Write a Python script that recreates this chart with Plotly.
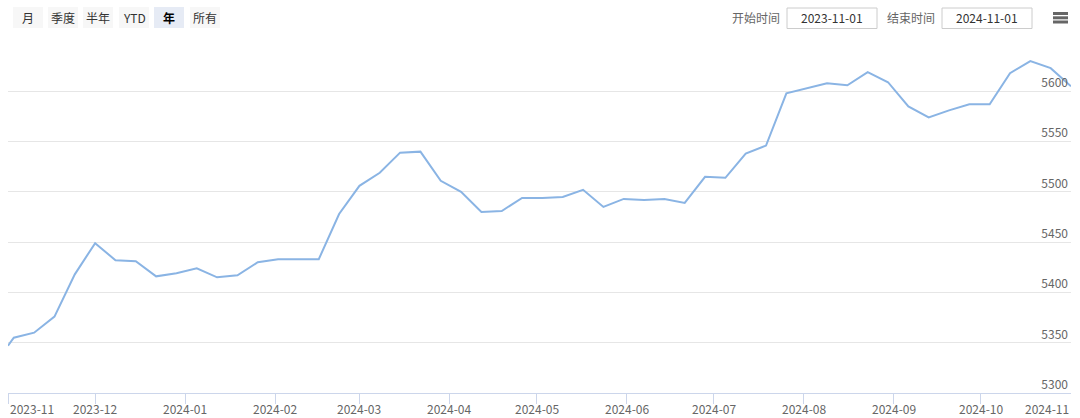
import plotly.graph_objects as go

# ---------------- data ----------------
dates = [
    "2023-11-01", "2023-11-03", "2023-11-10", "2023-11-17", "2023-11-24",
    "2023-12-01", "2023-12-08", "2023-12-15", "2023-12-22", "2023-12-29",
    "2024-01-05", "2024-01-12", "2024-01-19", "2024-01-26",
    "2024-02-02", "2024-02-09", "2024-02-16", "2024-02-23",
    "2024-03-01", "2024-03-08", "2024-03-15", "2024-03-22", "2024-03-29",
    "2024-04-05", "2024-04-12", "2024-04-19", "2024-04-26",
    "2024-05-03", "2024-05-10", "2024-05-17", "2024-05-24", "2024-05-31",
    "2024-06-07", "2024-06-14", "2024-06-21", "2024-06-28",
    "2024-07-05", "2024-07-12", "2024-07-19", "2024-07-26",
    "2024-08-02", "2024-08-09", "2024-08-16", "2024-08-23", "2024-08-30",
    "2024-09-06", "2024-09-13", "2024-09-20", "2024-09-27",
    "2024-10-04", "2024-10-11", "2024-10-18", "2024-10-25", "2024-11-01",
]
values = [
    5347, 5355, 5360, 5376, 5418,
    5449, 5432, 5431, 5416, 5419,
    5424, 5415, 5417, 5430,
    5433, 5433, 5433, 5478,
    5506, 5519, 5539, 5540, 5511,
    5500, 5480, 5481, 5494,
    5494, 5495, 5502, 5485, 5493,
    5492, 5493, 5489, 5515,
    5514, 5538, 5546, 5598,
    5603, 5608, 5606, 5619, 5609,
    5585, 5574, 5581, 5587,
    5587, 5618, 5630, 5623, 5605,
]
month_ticks = [
    "2023-11-01", "2023-12-01", "2024-01-01", "2024-02-01", "2024-03-01",
    "2024-04-01", "2024-05-01", "2024-06-01", "2024-07-01", "2024-08-01",
    "2024-09-01", "2024-10-01", "2024-11-01",
]
month_labels = [
    "2023-11", "2023-12", "2024-01", "2024-02", "2024-03", "2024-04", "2024-05",
    "2024-06", "2024-07", "2024-08", "2024-09", "2024-10", "2024-11",
]
y_ticks = [5300, 5350, 5400, 5450, 5500, 5550, 5600, 5650]
y_labels = ["5300", "5350", "5400", "5450", "5500", "5550", "5600", ""]
range_buttons = ["月", "季度", "半年", "YTD", "年", "所有"]
selected_button = "年"
start_date = "2023-11-01"
end_date = "2024-11-01"

# ---------------- layout geometry (pixels) ----------------
W_FIG, H_FIG = 1080, 418
L, R, T, B = 8, 1071, 41, 393
PW, PH = R - L, B - T


def xp(px):
    return (px - L) / PW


def yp(py):
    return (B - py) / PH


FONT = "Noto Sans CJK SC, Open Sans, sans-serif"
LINE_COLOR = "rgb(138,180,228)"

fig = go.Figure()
fig.add_trace(go.Scatter(
    x=dates, y=values, mode="lines",
    line=dict(color=LINE_COLOR, width=2),
    hoverinfo="x+y", showlegend=False,
))

shapes = []
annotations = []

# range selector buttons
btn_x0 = [13, 48, 83, 119, 154, 190]
for lbl, x0 in zip(range_buttons, btn_x0):
    sel = lbl == selected_button
    shapes.append(dict(
        type="rect", xref="paper", yref="paper",
        x0=xp(x0), x1=xp(x0 + 30), y0=yp(28), y1=yp(7),
        fillcolor="#e6ebf5" if sel else "#f7f7f7", line=dict(width=0),
        layer="above",
    ))
    annotations.append(dict(
        xref="paper", yref="paper", x=xp(x0 + 15), y=yp(17.5),
        text=f"<b>{lbl}</b>" if sel else lbl, showarrow=False,
        xanchor="center", yanchor="middle",
        font=dict(family=FONT, size=12, color="#000000" if sel else "#333333"),
    ))

# date inputs
for title, tx, val, bx in [("开始时间", 782, start_date, 787), ("结束时间", 937, end_date, 942)]:
    annotations.append(dict(
        xref="paper", yref="paper", x=xp(tx), y=yp(17.5), text=title,
        showarrow=False, xanchor="right", yanchor="middle",
        font=dict(family=FONT, size=12, color="#666666"),
    ))
    shapes.append(dict(
        type="rect", xref="paper", yref="paper",
        x0=xp(bx), x1=xp(bx + 90), y0=yp(28.5), y1=yp(8),
        fillcolor="#ffffff", line=dict(color="#cccccc", width=1), layer="above",
    ))
    annotations.append(dict(
        xref="paper", yref="paper", x=xp(bx + 45), y=yp(18), text=val,
        showarrow=False, xanchor="center", yanchor="middle",
        font=dict(family=FONT, size=12, color="#333333"),
    ))

# hamburger menu icon
for yy in [13.5, 17.8, 22]:
    shapes.append(dict(
        type="line", xref="paper", yref="paper",
        x0=xp(1053), x1=xp(1068), y0=yp(yy), y1=yp(yy),
        line=dict(color="#666666", width=3), layer="above",
    ))

# x-axis labels (Highcharts keeps end labels within the plot)
n = len(month_ticks)
for i, (d, lbl) in enumerate(zip(month_ticks, month_labels)):
    anchor = "left" if i == 0 else ("right" if i == n - 1 else "center")
    annotations.append(dict(
        xref="x", yref="paper", x=d, y=yp(408), text=lbl, showarrow=False,
        xanchor=anchor, yanchor="middle",
        font=dict(family=FONT, size=12, color="#666666"),
    ))

fig.update_layout(
    width=W_FIG, height=H_FIG,
    margin=dict(l=L, r=W_FIG - R, t=T, b=H_FIG - B, autoexpand=False),
    paper_bgcolor="#ffffff", plot_bgcolor="#ffffff",
    font=dict(family=FONT, size=12, color="#666666"),
    shapes=shapes, annotations=annotations,
    hovermode="x",
)
fig.update_xaxes(
    type="date", range=[month_ticks[0], month_ticks[-1]],
    tickvals=month_ticks, ticktext=month_labels, showticklabels=False,
    ticks="outside", ticklen=10, tickcolor="#ccd6eb", tickwidth=1,
    showline=True, linecolor="#ccd6eb", linewidth=1,
    showgrid=False, zeroline=False, fixedrange=True,
)
fig.update_yaxes(
    range=[5300, 5650], tickvals=y_ticks, ticktext=y_labels,
    side="right", ticklabelposition="inside top",
    tickfont=dict(family=FONT, size=12, color="#666666"),
    showgrid=True, gridcolor="#e6e6e6", gridwidth=1,
    zeroline=False, showline=False, ticks="", fixedrange=True,
)

fig.write_html(
    "out.html",
    config={"displayModeBar": False},
    post_script="document.body.style.margin='0';",
)
